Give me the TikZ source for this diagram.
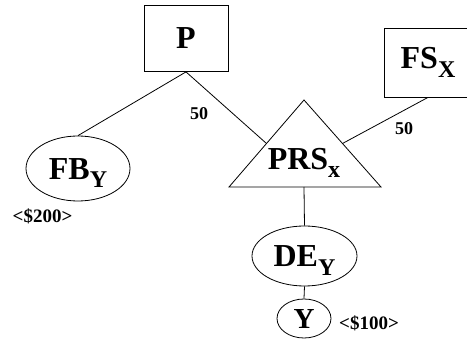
\documentclass[tikz,border=0pt]{standalone}
\usepackage{fontspec}
\setmainfont{Liberation Serif}
\usetikzlibrary{shapes.geometric}
\tikzset{
    % boxed parties (P, FS)
    party/.style={draw, rectangle, line width=0.8pt, inner sep=0pt,
        minimum width=84pt, minimum height=66pt,
        font=\fontsize{32}{32}\selectfont\bfseries},
    % oval parties (FB, DE, Y)
    oval/.style={draw, ellipse, line width=0.8pt, inner sep=0pt,
        text height=22pt, text depth=0pt,
        font=\fontsize{32}{32}\selectfont\bfseries},
    % share percentages on the links
    share/.style={font=\fontsize{18}{18}\selectfont\bfseries, inner sep=0pt},
    % money amounts next to the ovals
    amount/.style={font=\fontsize{19}{19}\selectfont\bfseries, inner sep=0pt},
    % plain links
    link/.style={line width=0.8pt},
}
\newcommand{\lowsub}[1]{\raisebox{-8.5pt}{\fontsize{24}{24}\selectfont #1}}

\begin{document}
\begin{tikzpicture}[x=1pt, y=-1pt]
    \useasboundingbox (0,0) rectangle (467,339);

    % ---- top boxes ----
    \node[party] (p)  at (186, 38.5) {P};
    \node[party, minimum width=88pt, minimum height=69pt] (fs) at (428, 62.5)
        {FS\lowsub{X}};

    % ---- the partnership triangle ----
    \coordinate (prsTop)   at (304, 100);
    \coordinate (prsLeft)  at (229, 187);
    \coordinate (prsRight) at (381, 187);
    \coordinate (prsBase)  at (304, 187);
    \coordinate (prsLS)    at (266.5, 143.5);
    \coordinate (prsRS)    at (342.5, 143.5);
    \draw[link] (prsTop) -- (prsLeft) -- (prsRight) -- cycle;
    \node[font=\fontsize{32}{32}\selectfont\bfseries, inner sep=0pt,
          anchor=base] (prs) at (304, 169.5) {PRS\lowsub{x}};

    % ---- ovals ----
    \node[oval, minimum width=104pt, minimum height=65pt] (fb) at (78, 168.5)
        {FB\lowsub{Y}};
    \node[oval, minimum width=105pt, minimum height=60pt] (de) at (304.5, 256)
        {DE\lowsub{Y}};
    \node[oval, minimum width=54pt, minimum height=39pt,
          font=\fontsize{29}{29}\selectfont\bfseries, text height=20pt] (y)
        at (304, 318.5) {Y};

    % ---- links ----
    \draw[link] (p.south) -- (fb.north);
    \draw[link] (p.south) -- (prsLS);
    \draw[link] (fs.south) -- (prsRS);
    \draw[link] (prsBase) -- (de.north);
    \draw[link] (de.south) -- (y.north);

    % ---- labels ----
    \node[share] (s1) at (199, 114) {50};
    \node[share] (s2) at (404, 129) {50};
    \node[amount] (a1) at (42.5, 216) {<\$200>};
    \node[amount] (a2) at (369, 323) {<\$100>};
\end{tikzpicture}
\end{document}
